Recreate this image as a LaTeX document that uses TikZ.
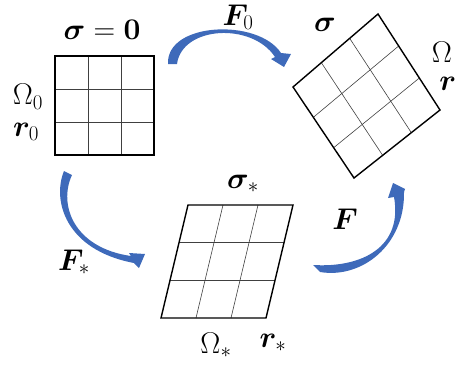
\RequirePackage{fix-cm}
\documentclass[tikz,border=0pt]{standalone}
\usepackage{bm}
\usetikzlibrary{calc}
\definecolor{arrowblue}{RGB}{62,106,186}
\tikzset{
  lbl/.style={inner sep=0pt, font=\fontsize{30}{33}\selectfont},
  frame/.style={line width=1.4pt, line join=miter, black},
  gridl/.style={line width=0.6pt, black!75},
  farrow/.style={fill=arrowblue, draw=none}
}
\begin{document}
\begin{tikzpicture}[x=1pt,y=-1pt]
\useasboundingbox (0,0) rectangle (457,364);
% reference square
\coordinate (a1) at (55,56); \coordinate (a2) at (154,56);
\coordinate (a3) at (154,155); \coordinate (a4) at (55,155);
% rotated square
\coordinate (b1) at (378,14); \coordinate (b2) at (440,110);
\coordinate (b3) at (354,178); \coordinate (b4) at (293,87);
% sheared square
\coordinate (c1) at (188,205); \coordinate (c2) at (293,205);
\coordinate (c3) at (266,318); \coordinate (c4) at (161,318);
\foreach \p in {a,b,c}{
  \foreach \t in {0.3333,0.6667}{
    \draw[gridl] ($(\p1)!\t!(\p2)$) -- ($(\p4)!\t!(\p3)$);
    \draw[gridl] ($(\p1)!\t!(\p4)$) -- ($(\p2)!\t!(\p3)$);
  }
  \draw[frame] (\p1) -- (\p2) -- (\p3) -- (\p4) -- cycle;
}
% labels
\node[lbl] (s0) at (102,30) {$\bm{\sigma}=\mathbf{0}$};
\node[lbl] (om0) at (28,97) {$\Omega_0$};
\node[lbl] (r0) at (26,132) {$\bm{r}_0$};
\node[lbl] (f0) at (238,17) {$\bm{F}_0$};
\node[lbl] (s1) at (325,25) {$\bm{\sigma}$};
\node[lbl] (om1) at (442,52) {$\Omega$};
\node[lbl, anchor=east] (r1) at (456.5,84) {$\bm{r}$};
\node[lbl] (ss) at (243,184) {$\bm{\sigma}_*$};
\node[lbl] (fs) at (74,262) {$\bm{F}_*$};
\node[lbl] (f1) at (345,219) {$\bm{F}$};
\node[lbl] (oms) at (216,345) {$\Omega_*$};
\node[lbl] (rs) at (273,343) {$\bm{r}_*$};
% curved block arrows
\fill[farrow] (168,64) .. controls (166,22) and (258,18) .. (281,53)
  -- (291,54) -- (284,67) -- (271,59) -- (275,57)
  .. controls (252,22) and (182,26) .. (177,64) -- cycle;
\fill[farrow] (64,171) .. controls (52,200) and (65,250) .. (134,263)
  -- (139,268) -- (145,254) -- (129,253) -- (131,256)
  .. controls (74,248) and (58,205) .. (72,175) -- cycle;
\fill[farrow] (320,272) .. controls (362,279) and (405,245) .. (404,192)
  -- (405,189) -- (393,183) -- (388,198) -- (394,197)
  .. controls (403,247) and (362,268) .. (313,265) -- cycle;
\end{tikzpicture}
\end{document}
